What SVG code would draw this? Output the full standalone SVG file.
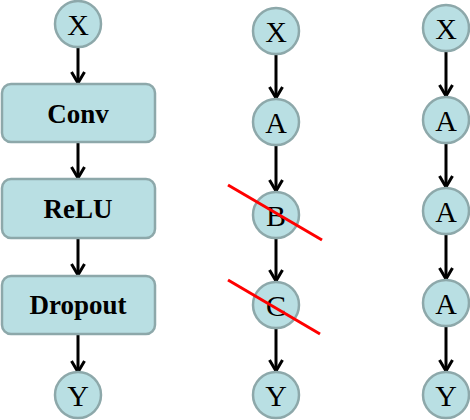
<svg xmlns="http://www.w3.org/2000/svg" width="470" height="420" viewBox="0 0 470 420">
<defs>
<style>
.node circle, .node rect { fill: #b9dfe3; stroke: #8da8aa; stroke-width: 2.5; }
.lbl { font-family: "Liberation Serif", "Times New Roman", serif; font-size: 30px; fill: #000; text-anchor: middle; }
.blbl { font-family: "Liberation Serif", "Times New Roman", serif; font-size: 27px; font-weight: bold; fill: #000; text-anchor: middle; }
.edge { stroke: #000; stroke-width: 3; fill: none; marker-end: url(#arr); }
.cross { stroke: #ff0000; stroke-width: 3; }
</style>
<marker id="arr" markerUnits="userSpaceOnUse" viewBox="0 0 14 16" markerWidth="14" markerHeight="16" refX="12" refY="8" orient="auto">
<path d="M 1 1.5 L 12 8 L 1 14.5" fill="none" stroke="#000" stroke-width="3"/>
</marker>
</defs>
<g id="connectors">
<line class="edge" x1="78" y1="48" x2="78" y2="83"/>
<line class="edge" x1="78" y1="143" x2="78" y2="178"/>
<line class="edge" x1="78" y1="239" x2="78" y2="275"/>
<line class="edge" x1="78" y1="335" x2="78" y2="372"/>
<line class="edge" x1="276" y1="55" x2="276" y2="98"/>
<line class="edge" x1="276" y1="146" x2="276" y2="191"/>
<line class="edge" x1="276" y1="239" x2="276" y2="281"/>
<line class="edge" x1="276" y1="329" x2="276" y2="371"/>
<line class="edge" x1="446" y1="52" x2="446" y2="96"/>
<line class="edge" x1="446" y1="144" x2="446" y2="187"/>
<line class="edge" x1="446" y1="235" x2="446" y2="279"/>
<line class="edge" x1="446" y1="327" x2="446" y2="371"/>
</g>
<g id="l-x" class="node"><circle cx="78" cy="24" r="23"/><text class="lbl" x="78" y="35">X</text></g>
<g id="l-conv" class="node"><rect x="2" y="84" width="153" height="58" rx="9"/><text class="blbl" x="78" y="123">Conv</text></g>
<g id="l-relu" class="node"><rect x="2" y="179" width="153" height="59" rx="9"/><text class="blbl" x="78" y="218">ReLU</text></g>
<g id="l-drop" class="node"><rect x="2" y="276" width="153" height="58" rx="9"/><text class="blbl" x="78" y="314">Dropout</text></g>
<g id="l-y" class="node"><circle cx="78" cy="395" r="23"/><text class="lbl" x="78" y="406">Y</text></g>
<g id="m-x" class="node"><circle cx="276" cy="31" r="23"/><text class="lbl" x="276" y="42">X</text></g>
<g id="m-a" class="node"><circle cx="276" cy="122" r="23"/><text class="lbl" x="276" y="133">A</text></g>
<g id="m-b" class="node"><circle cx="276" cy="215" r="23"/><text class="lbl" x="276" y="226">B</text></g>
<g id="m-c" class="node"><circle cx="276" cy="305" r="23"/><text class="lbl" x="276" y="316">C</text></g>
<g id="m-y" class="node"><circle cx="276" cy="395" r="23"/><text class="lbl" x="276" y="406">Y</text></g>
<g id="r-x" class="node"><circle cx="446" cy="28" r="23"/><text class="lbl" x="446" y="39">X</text></g>
<g id="r-a1" class="node"><circle cx="446" cy="120" r="23"/><text class="lbl" x="446" y="131">A</text></g>
<g id="r-a2" class="node"><circle cx="446" cy="211" r="23"/><text class="lbl" x="446" y="222">A</text></g>
<g id="r-a3" class="node"><circle cx="446" cy="303" r="23"/><text class="lbl" x="446" y="314">A</text></g>
<g id="r-y" class="node"><circle cx="446" cy="395" r="23"/><text class="lbl" x="446" y="406">Y</text></g>
<line class="cross" x1="228" y1="185" x2="322" y2="240"/>
<line class="cross" x1="228" y1="280" x2="320" y2="334"/>
</svg>
